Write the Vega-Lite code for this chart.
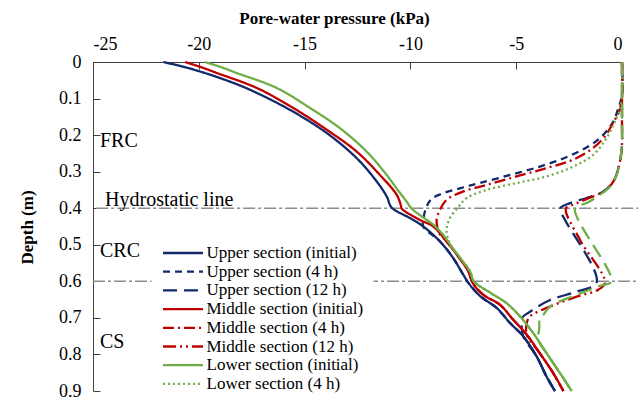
{
"$schema": "https://vega.github.io/schema/vega-lite/v6.json",
"width": 529, "height": 329,
"autosize": "none",
"padding": {"left": 93, "top": 62, "right": 16, "bottom": 8},
"background": "white",
"config": {
  "view": {"stroke": null},
  "font": "Liberation Serif",
  "legend": {"orient": "none", "legendX": 58.5, "legendY": 172.5, "symbolType": "stroke", "symbolSize": 1600, "symbolStrokeWidth": 2.3, "clipHeight": 17, "rowPadding": 0.7, "labelFontSize": 17, "labelFont": "Liberation Serif", "labelColor": "black", "labelLimit": 400, "labelOffset": 2, "fillColor": "white", "padding": 10}
},
"encoding": {
  "x": {"field": "p", "type": "quantitative", "scale": {"domain": [-25, 0], "nice": false, "zero": false},
    "title": "Pore-water pressure (kPa)",
    "axis": {"orient": "top", "values": [-25, -20, -15, -10, -5, 0], "labelExpr": "'' + datum.value", "labelFont": "Liberation Serif", "labelFontSize": 18, "labelColor": "black", "labelPadding": 16, "tickSize": -7, "tickColor": "#404040", "domainColor": "#404040", "grid": false, "titleFont": "Liberation Serif", "titleFontSize": 17, "titleFontWeight": "bold", "titleColor": "black", "titleX": 241, "titleY": -44, "titleBaseline": "middle", "titleAlign": "center"}},
  "y": {"field": "d", "type": "quantitative", "scale": {"domain": [0, 0.9], "reverse": true, "nice": false, "zero": false},
    "title": "Depth (m)",
    "axis": {"values": [0, 0.1, 0.2, 0.3, 0.4, 0.5, 0.6, 0.7, 0.8, 0.9], "labelExpr": "datum.value == 0 ? '0' : format(datum.value, '.1f')", "labelFont": "Liberation Serif", "labelFontSize": 18, "labelColor": "black", "labelPadding": 19, "tickSize": -7, "tickColor": "#404040", "domainColor": "#404040", "grid": false, "titleFont": "Liberation Serif", "titleFontSize": 17, "titleFontWeight": "bold", "titleColor": "black", "titleX": -66, "titleY": 165, "titleAngle": -90, "titleBaseline": "middle", "titleAlign": "center"}}
},
"layer": [
  {
    "data": {"values": [{"p": -24.85, "p2": 0.76, "d": 0.4}, {"p": -25, "p2": 0.76, "d": 0.6}]},
    "mark": {"type": "rule", "color": "#8c8c8c", "strokeWidth": 1.5, "strokeDash": [12, 3, 3, 3]},
    "encoding": {"x2": {"field": "p2"}}
  },
  {
    "data": {"values": [
      {"t": "FRC", "p": -24.67, "d": 0.232},
      {"t": "Hydrostatic line", "p": -24.43, "d": 0.393},
      {"t": "CRC", "p": -24.67, "d": 0.533},
      {"t": "CS", "p": -24.67, "d": 0.782}
    ]},
    "mark": {"type": "text", "align": "left", "baseline": "alphabetic", "font": "Liberation Serif", "fontSize": 20, "color": "black"},
    "encoding": {"text": {"field": "t"}}
  },
  {
    "data": {"values": [
{"s":"Upper section (initial)","p":-21.68,"d":0},
{"s":"Upper section (initial)","p":-20.8,"d":0.012},
{"s":"Upper section (initial)","p":-19.94,"d":0.026},
{"s":"Upper section (initial)","p":-18.7,"d":0.05},
{"s":"Upper section (initial)","p":-17.58,"d":0.076},
{"s":"Upper section (initial)","p":-15.69,"d":0.131},
{"s":"Upper section (initial)","p":-13.96,"d":0.194},
{"s":"Upper section (initial)","p":-12.54,"d":0.263},
{"s":"Upper section (initial)","p":-11.59,"d":0.327},
{"s":"Upper section (initial)","p":-11.1,"d":0.37},
{"s":"Upper section (initial)","p":-10.96,"d":0.392},
{"s":"Upper section (initial)","p":-10.84,"d":0.401},
{"s":"Upper section (initial)","p":-9.86,"d":0.432},
{"s":"Upper section (initial)","p":-9.39,"d":0.45},
{"s":"Upper section (initial)","p":-8.6,"d":0.491},
{"s":"Upper section (initial)","p":-7.97,"d":0.537},
{"s":"Upper section (initial)","p":-7.5,"d":0.582},
{"s":"Upper section (initial)","p":-7.25,"d":0.605},
{"s":"Upper section (initial)","p":-6.71,"d":0.64},
{"s":"Upper section (initial)","p":-5.92,"d":0.673},
{"s":"Upper section (initial)","p":-5.29,"d":0.714},
{"s":"Upper section (initial)","p":-4.66,"d":0.751},
{"s":"Upper section (initial)","p":-4.03,"d":0.806},
{"s":"Upper section (initial)","p":-3.56,"d":0.861},
{"s":"Upper section (initial)","p":-3.17,"d":0.9},

{"s":"Upper section (4 h)","p":0,"d":0},
{"s":"Upper section (4 h)","p":0,"d":0.09},
{"s":"Upper section (4 h)","p":-0.17,"d":0.126},
{"s":"Upper section (4 h)","p":-0.41,"d":0.163},
{"s":"Upper section (4 h)","p":-0.85,"d":0.197},
{"s":"Upper section (4 h)","p":-1.45,"d":0.226},
{"s":"Upper section (4 h)","p":-2.61,"d":0.26},
{"s":"Upper section (4 h)","p":-3.88,"d":0.286},
{"s":"Upper section (4 h)","p":-5.29,"d":0.309},
{"s":"Upper section (4 h)","p":-6.71,"d":0.331},
{"s":"Upper section (4 h)","p":-7.62,"d":0.345},
{"s":"Upper section (4 h)","p":-8.45,"d":0.359},
{"s":"Upper section (4 h)","p":-8.99,"d":0.374},
{"s":"Upper section (4 h)","p":-9.23,"d":0.395},
{"s":"Upper section (4 h)","p":-9.39,"d":0.43},
{"s":"Upper section (4 h)","p":-9.39,"d":0.45},
{"s":"Upper section (4 h)","p":-8.6,"d":0.491},
{"s":"Upper section (4 h)","p":-7.97,"d":0.537},
{"s":"Upper section (4 h)","p":-7.5,"d":0.582},
{"s":"Upper section (4 h)","p":-7.25,"d":0.605},
{"s":"Upper section (4 h)","p":-6.71,"d":0.64},
{"s":"Upper section (4 h)","p":-5.92,"d":0.673},
{"s":"Upper section (4 h)","p":-5.29,"d":0.714},
{"s":"Upper section (4 h)","p":-4.66,"d":0.751},
{"s":"Upper section (4 h)","p":-4.03,"d":0.806},
{"s":"Upper section (4 h)","p":-3.56,"d":0.861},
{"s":"Upper section (4 h)","p":-3.17,"d":0.9},

{"s":"Upper section (12 h)","p":0,"d":0},
{"s":"Upper section (12 h)","p":0,"d":0.163},
{"s":"Upper section (12 h)","p":-0.01,"d":0.235},
{"s":"Upper section (12 h)","p":-0.13,"d":0.281},
{"s":"Upper section (12 h)","p":-0.41,"d":0.327},
{"s":"Upper section (12 h)","p":-0.88,"d":0.354},
{"s":"Upper section (12 h)","p":-1.67,"d":0.372},
{"s":"Upper section (12 h)","p":-2.46,"d":0.386},
{"s":"Upper section (12 h)","p":-2.93,"d":0.401},
{"s":"Upper section (12 h)","p":-2.69,"d":0.432},
{"s":"Upper section (12 h)","p":-1.2,"d":0.603},
{"s":"Upper section (12 h)","p":-2.14,"d":0.628},
{"s":"Upper section (12 h)","p":-3.4,"d":0.651},
{"s":"Upper section (12 h)","p":-4.35,"d":0.683},
{"s":"Upper section (12 h)","p":-4.74,"d":0.701},
{"s":"Upper section (12 h)","p":-4.74,"d":0.724},
{"s":"Upper section (12 h)","p":-4.66,"d":0.751},
{"s":"Upper section (12 h)","p":-4.03,"d":0.806},
{"s":"Upper section (12 h)","p":-3.56,"d":0.861},
{"s":"Upper section (12 h)","p":-3.17,"d":0.9},

{"s":"Middle section (initial)","p":-20.65,"d":0},
{"s":"Middle section (initial)","p":-19.9,"d":0.014},
{"s":"Middle section (initial)","p":-19.15,"d":0.03},
{"s":"Middle section (initial)","p":-17.26,"d":0.071},
{"s":"Middle section (initial)","p":-15.53,"d":0.126},
{"s":"Middle section (initial)","p":-13.96,"d":0.185},
{"s":"Middle section (initial)","p":-12.54,"d":0.245},
{"s":"Middle section (initial)","p":-11.44,"d":0.309},
{"s":"Middle section (initial)","p":-10.65,"d":0.363},
{"s":"Middle section (initial)","p":-10.45,"d":0.392},
{"s":"Middle section (initial)","p":-10.41,"d":0.401},
{"s":"Middle section (initial)","p":-9.55,"d":0.432},
{"s":"Middle section (initial)","p":-8.92,"d":0.45},
{"s":"Middle section (initial)","p":-8.29,"d":0.491},
{"s":"Middle section (initial)","p":-7.74,"d":0.532},
{"s":"Middle section (initial)","p":-7.26,"d":0.573},
{"s":"Middle section (initial)","p":-7.05,"d":0.605},
{"s":"Middle section (initial)","p":-6.55,"d":0.637},
{"s":"Middle section (initial)","p":-5.77,"d":0.664},
{"s":"Middle section (initial)","p":-5.14,"d":0.705},
{"s":"Middle section (initial)","p":-4.5,"d":0.746},
{"s":"Middle section (initial)","p":-3.88,"d":0.797},
{"s":"Middle section (initial)","p":-3.25,"d":0.851},
{"s":"Middle section (initial)","p":-2.77,"d":0.9},

{"s":"Middle section (4 h)","p":0,"d":0},
{"s":"Middle section (4 h)","p":0,"d":0.09},
{"s":"Middle section (4 h)","p":-0.13,"d":0.135},
{"s":"Middle section (4 h)","p":-0.41,"d":0.165},
{"s":"Middle section (4 h)","p":-0.8,"d":0.203},
{"s":"Middle section (4 h)","p":-1.36,"d":0.235},
{"s":"Middle section (4 h)","p":-2.3,"d":0.267},
{"s":"Middle section (4 h)","p":-3.56,"d":0.29},
{"s":"Middle section (4 h)","p":-4.98,"d":0.313},
{"s":"Middle section (4 h)","p":-6.39,"d":0.336},
{"s":"Middle section (4 h)","p":-7.5,"d":0.354},
{"s":"Middle section (4 h)","p":-8.29,"d":0.377},
{"s":"Middle section (4 h)","p":-8.6,"d":0.404},
{"s":"Middle section (4 h)","p":-8.76,"d":0.432},
{"s":"Middle section (4 h)","p":-8.64,"d":0.468},
{"s":"Middle section (4 h)","p":-8.29,"d":0.491},
{"s":"Middle section (4 h)","p":-7.74,"d":0.532},
{"s":"Middle section (4 h)","p":-7.26,"d":0.573},
{"s":"Middle section (4 h)","p":-7.05,"d":0.605},
{"s":"Middle section (4 h)","p":-6.55,"d":0.637},
{"s":"Middle section (4 h)","p":-5.77,"d":0.664},
{"s":"Middle section (4 h)","p":-5.14,"d":0.705},
{"s":"Middle section (4 h)","p":-4.5,"d":0.746},
{"s":"Middle section (4 h)","p":-3.88,"d":0.797},
{"s":"Middle section (4 h)","p":-3.25,"d":0.851},
{"s":"Middle section (4 h)","p":-2.77,"d":0.9},

{"s":"Middle section (12 h)","p":0,"d":0},
{"s":"Middle section (12 h)","p":0,"d":0.163},
{"s":"Middle section (12 h)","p":-0.01,"d":0.235},
{"s":"Middle section (12 h)","p":-0.13,"d":0.281},
{"s":"Middle section (12 h)","p":-0.41,"d":0.327},
{"s":"Middle section (12 h)","p":-0.88,"d":0.354},
{"s":"Middle section (12 h)","p":-1.67,"d":0.375},
{"s":"Middle section (12 h)","p":-2.3,"d":0.39},
{"s":"Middle section (12 h)","p":-2.65,"d":0.401},
{"s":"Middle section (12 h)","p":-1.98,"d":0.487},
{"s":"Middle section (12 h)","p":-0.8,"d":0.603},
{"s":"Middle section (12 h)","p":-1.12,"d":0.623},
{"s":"Middle section (12 h)","p":-2.14,"d":0.642},
{"s":"Middle section (12 h)","p":-3.4,"d":0.669},
{"s":"Middle section (12 h)","p":-4.35,"d":0.696},
{"s":"Middle section (12 h)","p":-4.5,"d":0.714},
{"s":"Middle section (12 h)","p":-4.5,"d":0.746},
{"s":"Middle section (12 h)","p":-3.88,"d":0.797},
{"s":"Middle section (12 h)","p":-3.25,"d":0.851},
{"s":"Middle section (12 h)","p":-2.77,"d":0.9},

{"s":"Lower section (initial)","p":-19.71,"d":0},
{"s":"Lower section (initial)","p":-18.95,"d":0.014},
{"s":"Lower section (initial)","p":-18.21,"d":0.03},
{"s":"Lower section (initial)","p":-16.32,"d":0.071},
{"s":"Lower section (initial)","p":-14.74,"d":0.126},
{"s":"Lower section (initial)","p":-13.33,"d":0.181},
{"s":"Lower section (initial)","p":-12.07,"d":0.245},
{"s":"Lower section (initial)","p":-11.12,"d":0.309},
{"s":"Lower section (initial)","p":-10.6,"d":0.35},
{"s":"Lower section (initial)","p":-10.2,"d":0.38},
{"s":"Lower section (initial)","p":-9.94,"d":0.401},
{"s":"Lower section (initial)","p":-9.4,"d":0.425},
{"s":"Lower section (initial)","p":-8.92,"d":0.445},
{"s":"Lower section (initial)","p":-8.45,"d":0.473},
{"s":"Lower section (initial)","p":-8.05,"d":0.505},
{"s":"Lower section (initial)","p":-7.58,"d":0.541},
{"s":"Lower section (initial)","p":-7.18,"d":0.573},
{"s":"Lower section (initial)","p":-7.0,"d":0.6},
{"s":"Lower section (initial)","p":-6.2,"d":0.632},
{"s":"Lower section (initial)","p":-5.45,"d":0.66},
{"s":"Lower section (initial)","p":-4.82,"d":0.696},
{"s":"Lower section (initial)","p":-4.19,"d":0.742},
{"s":"Lower section (initial)","p":-3.56,"d":0.797},
{"s":"Lower section (initial)","p":-2.93,"d":0.851},
{"s":"Lower section (initial)","p":-2.38,"d":0.9},

{"s":"Lower section (4 h)","p":0,"d":0},
{"s":"Lower section (4 h)","p":0,"d":0.09},
{"s":"Lower section (4 h)","p":-0.13,"d":0.135},
{"s":"Lower section (4 h)","p":-0.41,"d":0.172},
{"s":"Lower section (4 h)","p":-0.75,"d":0.21},
{"s":"Lower section (4 h)","p":-1.36,"d":0.254},
{"s":"Lower section (4 h)","p":-2.3,"d":0.286},
{"s":"Lower section (4 h)","p":-3.56,"d":0.313},
{"s":"Lower section (4 h)","p":-4.98,"d":0.331},
{"s":"Lower section (4 h)","p":-6.39,"d":0.35},
{"s":"Lower section (4 h)","p":-7.34,"d":0.372},
{"s":"Lower section (4 h)","p":-7.74,"d":0.397},
{"s":"Lower section (4 h)","p":-8.13,"d":0.427},
{"s":"Lower section (4 h)","p":-8.29,"d":0.457},
{"s":"Lower section (4 h)","p":-8.21,"d":0.486},
{"s":"Lower section (4 h)","p":-8.05,"d":0.505},
{"s":"Lower section (4 h)","p":-7.58,"d":0.541},
{"s":"Lower section (4 h)","p":-7.18,"d":0.573},
{"s":"Lower section (4 h)","p":-7.0,"d":0.6},
{"s":"Lower section (4 h)","p":-6.2,"d":0.632},
{"s":"Lower section (4 h)","p":-5.45,"d":0.66},
{"s":"Lower section (4 h)","p":-4.82,"d":0.696},
{"s":"Lower section (4 h)","p":-4.19,"d":0.742},
{"s":"Lower section (4 h)","p":-3.56,"d":0.797},
{"s":"Lower section (4 h)","p":-2.93,"d":0.851},
{"s":"Lower section (4 h)","p":-2.38,"d":0.9},

{"s":"Lower section (12 h)","p":0,"d":0},
{"s":"Lower section (12 h)","p":0,"d":0.163},
{"s":"Lower section (12 h)","p":-0.01,"d":0.226},
{"s":"Lower section (12 h)","p":-0.09,"d":0.272},
{"s":"Lower section (12 h)","p":-0.25,"d":0.309},
{"s":"Lower section (12 h)","p":-0.57,"d":0.341},
{"s":"Lower section (12 h)","p":-1.04,"d":0.363},
{"s":"Lower section (12 h)","p":-1.67,"d":0.386},
{"s":"Lower section (12 h)","p":-2.22,"d":0.401},
{"s":"Lower section (12 h)","p":-0.5,"d":0.6},
{"s":"Lower section (12 h)","p":-1.04,"d":0.612},
{"s":"Lower section (12 h)","p":-2.14,"d":0.637},
{"s":"Lower section (12 h)","p":-3.4,"d":0.669},
{"s":"Lower section (12 h)","p":-3.72,"d":0.692},
{"s":"Lower section (12 h)","p":-3.88,"d":0.701},
{"s":"Lower section (12 h)","p":-3.91,"d":0.728},
{"s":"Lower section (12 h)","p":-3.95,"d":0.76},
{"s":"Lower section (12 h)","p":-3.56,"d":0.797},
{"s":"Lower section (12 h)","p":-2.93,"d":0.851},
{"s":"Lower section (12 h)","p":-2.38,"d":0.9}
    ]},
    "mark": {"type": "line", "strokeWidth": 2.3, "interpolate": "catmull-rom"},
    "encoding": {
      "order": {"field": "d", "type": "quantitative"},
      "color": {"field": "s", "type": "nominal", "title": null,
        "legend": {"values": ["Upper section (initial)", "Upper section (4 h)", "Upper section (12 h)", "Middle section (initial)", "Middle section (4 h)", "Middle section (12 h)", "Lower section (initial)", "Lower section (4 h)"]},
        "scale": {"domain": ["Upper section (initial)", "Upper section (4 h)", "Upper section (12 h)", "Middle section (initial)", "Middle section (4 h)", "Middle section (12 h)", "Lower section (initial)", "Lower section (4 h)", "Lower section (12 h)"],
                  "range": ["#12296b", "#12296b", "#12296b", "#c00000", "#c00000", "#c00000", "#70ad47", "#70ad47", "#70ad47"]}},
      "strokeDash": {"field": "s", "type": "nominal", "title": null,
        "legend": {"values": ["Upper section (initial)", "Upper section (4 h)", "Upper section (12 h)", "Middle section (initial)", "Middle section (4 h)", "Middle section (12 h)", "Lower section (initial)", "Lower section (4 h)"]},
        "scale": {"domain": ["Upper section (initial)", "Upper section (4 h)", "Upper section (12 h)", "Middle section (initial)", "Middle section (4 h)", "Middle section (12 h)", "Lower section (initial)", "Lower section (4 h)", "Lower section (12 h)"],
                  "range": [[1, 0], [7, 5], [14, 7], [1, 0], [11, 4, 2, 4], [13, 4, 2, 4, 2, 4], [1, 0], [2, 3], [14, 7]]}}
    }
  }
]
}
